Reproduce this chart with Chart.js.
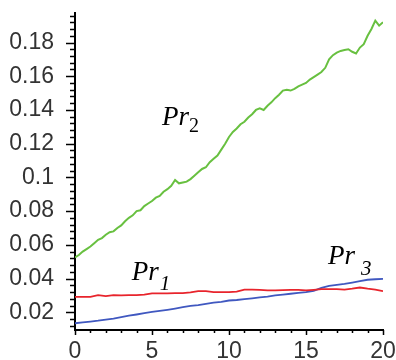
<!DOCTYPE html>
<html>
<head>
<meta charset="utf-8">
<script src="https://cdn.jsdelivr.net/npm/chart.js@4/dist/chart.umd.min.js"></script>
<style>
  html, body { margin: 0; padding: 0; background: #fff; }
  canvas { display: block; }
</style>
</head>
<body>
<canvas id="prChart" width="396" height="360"></canvas>
<script>
// Sample positions along the horizontal axis
const tFine = [
    0, 0.25, 0.5, 0.75, 1, 1.25, 1.5, 1.75, 2, 2.25, 2.5, 2.75, 3, 3.25, 3.5, 3.75,
    4, 4.25, 4.5, 4.75, 5, 5.25, 5.5, 5.75, 6, 6.25, 6.5, 6.75, 7, 7.25, 7.5, 7.75,
    8, 8.25, 8.5, 8.75, 9, 9.25, 9.5, 9.75, 10, 10.25, 10.5, 10.75, 11, 11.25, 11.5, 11.75,
    12, 12.25, 12.5, 12.75, 13, 13.25, 13.5, 13.75, 14, 14.25, 14.5, 14.75, 15, 15.25, 15.5, 15.75,
    16, 16.25, 16.5, 16.75, 17, 17.25, 17.5, 17.75, 18, 18.25, 18.5, 18.75, 19, 19.25, 19.5, 19.75, 20
];
const tCoarse = [
    0, 0.5, 1, 1.5, 2, 2.5, 3, 3.5, 4, 4.5, 5, 5.5, 6, 6.5, 7, 7.5, 8, 8.5, 9, 9.5, 10,
    10.5, 11, 11.5, 12, 12.5, 13, 13.5, 14, 14.5, 15, 15.5, 16, 16.5, 17, 17.5, 18, 18.5, 19, 19.5, 20
];

// Pr2 (sampled on tFine)
const pr2 = [
    0.0525, 0.0540, 0.0560, 0.0575, 0.0590, 0.0610, 0.0630, 0.0640, 0.0660, 0.0675, 0.0680, 0.0700, 0.0715, 0.0740, 0.0760, 0.0775,
    0.0800, 0.0805, 0.0830, 0.0845, 0.0860, 0.0880, 0.0890, 0.0915, 0.0930, 0.0950, 0.0985, 0.0965, 0.0970, 0.0975, 0.0990, 0.1010,
    0.1030, 0.1050, 0.1060, 0.1090, 0.1110, 0.1130, 0.1165, 0.1200, 0.1240, 0.1270, 0.1290, 0.1315, 0.1330, 0.1355, 0.1375, 0.1400,
    0.1410, 0.1400, 0.1425, 0.1445, 0.1470, 0.1490, 0.1515, 0.1520, 0.1515, 0.1525, 0.1540, 0.1550, 0.1560, 0.1580, 0.1595, 0.1610,
    0.1625, 0.1650, 0.1700, 0.1725, 0.1740, 0.1750, 0.1755, 0.1760, 0.1745, 0.1735, 0.1770, 0.1790, 0.1840, 0.1880, 0.1930, 0.1900, 0.1920
];

// Pr1 and Pr3 (sampled on tCoarse)
const pr1 = [
    0.0292, 0.0292, 0.0292, 0.0302, 0.0296, 0.0302, 0.0300, 0.0302, 0.0302, 0.0305, 0.0312, 0.0312, 0.0312, 0.0314, 0.0314, 0.0318,
    0.0325, 0.0325, 0.0320, 0.0320, 0.0320, 0.0322, 0.0335, 0.0335, 0.0333, 0.0330, 0.0330, 0.0332, 0.0333, 0.0333, 0.0330, 0.0333,
    0.0337, 0.0337, 0.0337, 0.0335, 0.0340, 0.0347, 0.0340, 0.0335, 0.0325
];
const pr3 = [
    0.0135, 0.0140, 0.0145, 0.0150, 0.0157, 0.0163, 0.0172, 0.0180, 0.0187, 0.0195, 0.0202, 0.0208, 0.0215, 0.0222, 0.0230, 0.0238,
    0.0243, 0.0250, 0.0257, 0.0262, 0.0270, 0.0273, 0.0278, 0.0283, 0.0288, 0.0293, 0.0300, 0.0305, 0.0310, 0.0315, 0.0320, 0.0327,
    0.0345, 0.0357, 0.0362, 0.0368, 0.0376, 0.0385, 0.0393, 0.0396, 0.0398
];

// Axis tick labels
const xTicks = [0, 5, 10, 15, 20];
const yTicks = [0.02, 0.04, 0.06, 0.08, 0.1, 0.12, 0.14, 0.16, 0.18];

const toPoints = (xs, ys) => xs.map((x, i) => ({ x: x, y: ys[i] }));

// small ticks between the labelled ones, plus the curve names
const decorations = {
    id: 'decorations',
    afterDraw(chart) {
        const ctx = chart.ctx;
        const xs = chart.scales.x, ys = chart.scales.y;
        const area = chart.chartArea;
        ctx.save();
        ctx.strokeStyle = '#000';
        ctx.lineWidth = 1.5;
        ctx.beginPath();
        for (let k = 3; k <= 49; k++) {
            const py = Math.round(ys.getPixelForValue(k * 0.004)) + 0.5;
            const len = k % 5 === 0 ? 9 : 5;
            ctx.moveTo(area.left - len, py);
            ctx.lineTo(area.left, py);
        }
        for (let k = 0; k <= 20; k++) {
            const px = Math.round(xs.getPixelForValue(k)) + 0.5;
            const len = k % 5 === 0 ? 5 : 3;
            ctx.moveTo(px, area.bottom);
            ctx.lineTo(px, area.bottom + len);
        }
        ctx.stroke();

        const names = [
            { sub: '2', x: 5.65, y: 0.1313, dy: 7, gap: 0, subFont: '20px "Liberation Serif"' },
            { sub: '1', x: 3.68, y: 0.0394, dy: 10, gap: 1, subFont: 'italic 21px "Liberation Serif"' },
            { sub: '3', x: 16.43, y: 0.0489, dy: 11, gap: 6, subFont: 'italic 21px "Liberation Serif"' }
        ];
        ctx.fillStyle = '#000';
        ctx.textBaseline = 'alphabetic';
        ctx.textAlign = 'left';
        names.forEach(n => {
            const px = xs.getPixelForValue(n.x);
            const py = ys.getPixelForValue(n.y);
            ctx.font = 'italic 27px "Liberation Serif"';
            ctx.fillText('Pr', px, py);
            const w = ctx.measureText('Pr').width;
            ctx.font = n.subFont;
            ctx.fillText(n.sub, px + w + n.gap, py + n.dy);
        });
        ctx.restore();
    }
};

const tickFont = { family: '"Liberation Sans", Arial, sans-serif', size: 23 };

new Chart(document.getElementById('prChart').getContext('2d'), {
    type: 'line',
    data: {
        datasets: [
            { label: 'Pr2', data: toPoints(tFine, pr2), borderColor: 'rgb(104,192,64)', borderWidth: 2 },
            { label: 'Pr1', data: toPoints(tCoarse, pr1), borderColor: 'rgb(232,36,44)', borderWidth: 1.8 },
            { label: 'Pr3', data: toPoints(tCoarse, pr3), borderColor: 'rgb(64,88,192)', borderWidth: 1.8 }
        ]
    },
    options: {
        responsive: false,
        animation: false,
        devicePixelRatio: 1,
        layout: { padding: { top: 13, right: 13, left: 0, bottom: 0 } },
        elements: { point: { radius: 0 }, line: { tension: 0 } },
        plugins: { legend: { display: false }, tooltip: { enabled: false } },
        scales: {
            x: {
                type: 'linear',
                min: 0,
                max: 20,
                afterBuildTicks: s => { s.ticks = xTicks.map(v => ({ value: v })); },
                afterFit: s => { s.height = 30; s.paddingLeft = 0; s.paddingRight = 0; },
                grid: { display: false },
                border: { display: true, color: '#000', width: 2 },
                ticks: { font: tickFont, color: '#333', padding: 0, maxRotation: 0, autoSkip: false, callback: v => String(v) }
            },
            y: {
                min: 0.0095,
                max: 0.1975,
                afterBuildTicks: s => { s.ticks = yTicks.map(v => ({ value: v })); },
                afterFit: s => { s.width = 75; s.paddingTop = 0; s.paddingBottom = 0; },
                grid: { display: false },
                border: { display: true, color: '#000', width: 2 },
                ticks: { font: tickFont, color: '#333', padding: 13, autoSkip: false, callback: v => String(v) }
            }
        }
    },
    plugins: [decorations]
});
</script>
</body>
</html>
